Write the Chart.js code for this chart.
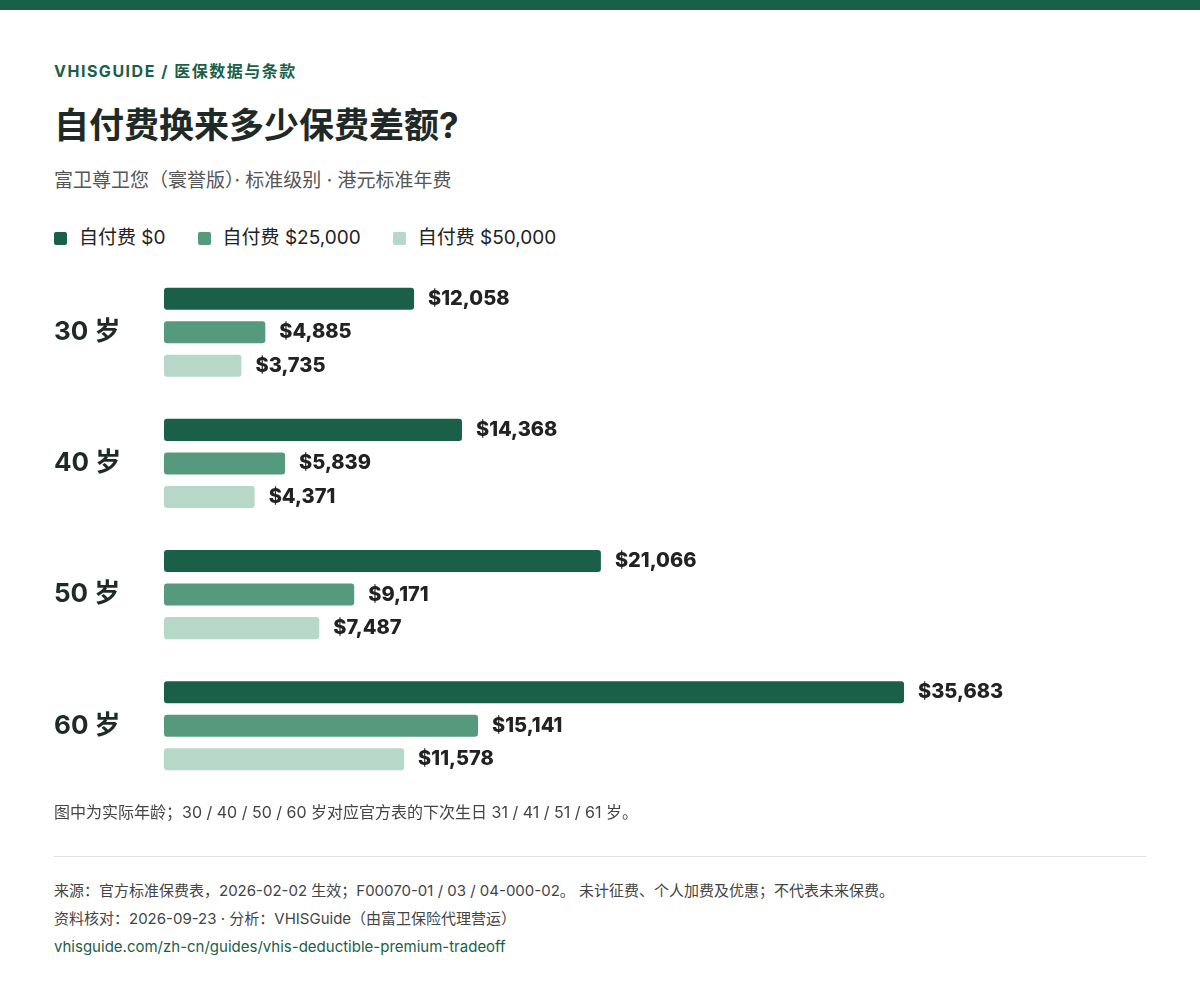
<!DOCTYPE html>
<html lang="zh-CN">
<head>
<meta charset="UTF-8">
<title>自付费换来多少保费差额?</title>
<script src="https://cdn.jsdelivr.net/npm/chart.js@4/dist/chart.umd.min.js"></script>
<style>
  body { margin: 0; background: #fff; font-family: 'Inter', 'Noto Sans CJK SC', sans-serif; color: #1f2a26; }
  .topbar { position: absolute; left: 0; top: 0; width: 1200px; height: 10px; background: #1a6048; }
  .wrap { position: relative; width: 1200px; height: 1002px; }
  .kicker { position: absolute; left: 54px; top: 58px; font-size: 16px; font-weight: 700; letter-spacing: 1.5px; color: #1a6048; }
  h1 { position: absolute; left: 54px; top: 97px; margin: 0; font-size: 35px; font-weight: 700; color: #1f2a26; }
  .sub { position: absolute; left: 54px; top: 165px; font-size: 19px; color: #555; }
  .legend { position: absolute; left: 54px; top: 222px; font-size: 19px; color: #222; display: flex; gap: 32px; }
  .legend span i { display: inline-block; width: 13px; height: 13px; margin-right: 12px; border-radius: 2px; vertical-align: -1px; }
  .chart { position: absolute; left: 54px; top: 251px; width: 1092px; height: 556px; }
  .note { position: absolute; left: 54px; top: 799px; font-size: 16px; color: #444; }
  hr { position: absolute; left: 54px; top: 856px; width: 1092px; margin: 0; border: 0; border-top: 1px solid #dde3e0; }
  .foot { position: absolute; left: 54px; font-size: 15px; color: #444; }
  .link { color: #1a6048; }
</style>
</head>
<body>
<div class="wrap">
  <div class="topbar"></div>
  <div class="kicker">VHISGUIDE / 医保数据与条款</div>
  <h1>自付费换来多少保费差额?</h1>
  <div class="sub">富卫尊卫您（寰誉版）· 标准级别 · 港元标准年费</div>
  <div class="legend" id="legend"></div>
  <div class="chart"><canvas id="c"></canvas></div>
  <div class="note">图中为实际年龄；30 / 40 / 50 / 60 岁对应官方表的下次生日 31 / 41 / 51 / 61 岁。</div>
  <hr>
  <div class="foot" style="top:879px">来源：官方标准保费表，2026-02-02 生效；F00070-01 / 03 / 04-000-02。 未计征费、个人加费及优惠；不代表未来保费。</div>
  <div class="foot" style="top:907px">资料核对：2026-09-23 · 分析：VHISGuide（由富卫保险代理营运）</div>
  <div class="foot link" style="top:937px">vhisguide.com/zh-cn/guides/vhis-deductible-premium-tradeoff</div>
</div>
<script>
const ages = ['30 岁', '40 岁', '50 岁', '60 岁'];
const seriesNames = ['自付费 $0', '自付费 $25,000', '自付费 $50,000'];
const ded0 = [12058, 14368, 21066, 35683];
const ded25k = [4885, 5839, 9171, 15141];
const ded50k = [3735, 4371, 7487, 11578];
const colors = ['#1a6048', '#559a7c', '#b7d8c8'];

document.getElementById('legend').innerHTML = seriesNames
  .map((n, i) => `<span><i style="background:${colors[i]}"></i>${n}</span>`).join('');

const valueLabels = {
  id: 'valueLabels',
  afterDatasetsDraw(chart) {
    const ctx = chart.ctx;
    ctx.save();
    ctx.font = '800 20px Inter, sans-serif';
    ctx.fillStyle = '#222';
    ctx.textBaseline = 'middle';
    chart.data.datasets.forEach((ds, di) => {
      chart.getDatasetMeta(di).data.forEach((bar, i) => {
        ctx.fillText('$' + ds.data[i].toLocaleString('en-US'), bar.x + 14, bar.y);
      });
    });
    ctx.restore();
  }
};

new Chart(document.getElementById('c'), {
  type: 'bar',
  data: {
    labels: ages,
    datasets: [ded0, ded25k, ded50k].map((d, i) => ({
      label: seriesNames[i], data: d, backgroundColor: colors[i],
      borderRadius: 3, borderSkipped: false,
      categoryPercentage: 0.767, barPercentage: 0.657
    }))
  },
  options: {
    indexAxis: 'y',
    responsive: true,
    maintainAspectRatio: false,
    animation: false,
    layout: { padding: 0 },
    plugins: { legend: { display: false }, tooltip: { enabled: false } },
    scales: {
      x: { min: 0, max: 47350, display: false },
      y: {
        grid: { display: false }, border: { display: false },
        afterFit(s) { s.width = 110; },
        ticks: { crossAlign: 'far', padding: 0, color: '#1f2a26',
          font: { size: 26, weight: '700', family: 'Inter, "Noto Sans CJK SC", sans-serif' } }
      }
    }
  },
  plugins: [valueLabels]
});
</script>
</body>
</html>
